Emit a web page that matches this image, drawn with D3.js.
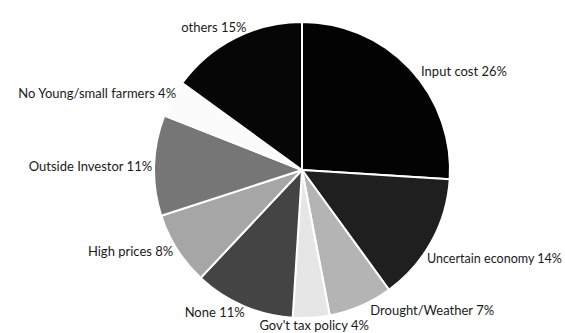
<!DOCTYPE html>
<html>
<head>
<meta charset="utf-8">
<script src="https://cdn.jsdelivr.net/npm/d3@7"></script>
<style>
  html, body { margin: 0; padding: 0; background: #fff; }
  svg { display: block; }
  text { font-family: Lato, "Open Sans", sans-serif; font-size: 13px; fill: #1a1a1a; }
</style>
</head>
<body>
<svg id="chart" width="565" height="333"></svg>
<script>
// Reasons, in clockwise order from 12 o'clock
const categories = [
  "Input cost", "Uncertain economy", "Drought/Weather", "Gov't tax policy",
  "None", "High prices", "Outside Investor", "No Young/small farmers", "others"
];
const values = [26, 14, 7, 4, 11, 8, 11, 4, 15];
const shades = [
  "#030303", "#1f1f1f", "#b4b4b4", "#e6e6e6",
  "#444444", "#a6a6a6", "#767676", "#fbfbfb", "#060606"
];

const width = 565, height = 333;
const cx = 302, cy = 170, radius = 148;
const baseFont = 13;

// small hand adjustments of each label away from its default spot on the label ring
const labelNudge = [
  [1, 12], [-17, 11], [4, -8], [2, -6], [7, -6], [8, -5], [12, 2], [16, 1], [18, 2]
];

const svg = d3.select("#chart");
const g = svg.append("g").attr("transform", `translate(${cx},${cy})`);

const data = categories.map((c, i) => ({ name: c, value: values[i], color: shades[i], i }));

const pie = d3.pie().sort(null).value(d => d.value);
const arc = d3.arc().innerRadius(0).outerRadius(radius);
const labelArc = d3.arc().innerRadius(162).outerRadius(162);

const arcs = pie(data);

g.selectAll("path.slice")
  .data(arcs)
  .join("path")
  .attr("class", "slice")
  .attr("d", arc)
  .attr("fill", d => d.data.color)
  .attr("stroke", "#fff")
  .attr("stroke-width", 2)
  .attr("stroke-linejoin", "round");

g.selectAll("text.label")
  .data(arcs)
  .join("text")
  .attr("class", "label")
  .each(function (d) {
    const mid = (d.startAngle + d.endAngle) / 2;
    const [x, y] = labelArc.centroid(d);
    const [nx, ny] = labelNudge[d.data.i];
    const s = Math.sin(mid);
    const anchor = Math.abs(s) < 0.2 ? "middle" : (s > 0 ? "start" : "end");
    const t = d3.select(this)
      .attr("x", x + nx)
      .attr("y", y + ny)
      .attr("dy", "0.35em")
      .attr("text-anchor", anchor)
      .text(`${d.data.name} ${d.data.value}%`);
    // shrink right-hand labels that would run past the canvas edge
    if (anchor === "start") {
      const room = width - 3 - (cx + x + nx);
      const len = this.getComputedTextLength();
      if (len > room) t.style("font-size", (baseFont * room / len).toFixed(2) + "px");
    }
  });
</script>
</body>
</html>
